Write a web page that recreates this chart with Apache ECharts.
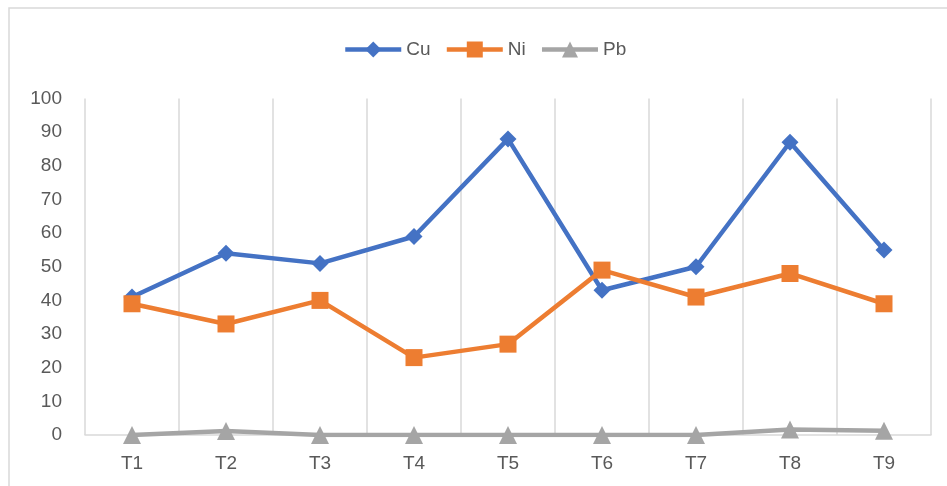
<!DOCTYPE html>
<html>
<head>
<meta charset="utf-8">
<script src="https://cdn.jsdelivr.net/npm/echarts@6/dist/echarts.min.js"></script>
<style>
  html, body { margin: 0; padding: 0; background: #fff; }
  #chart { width: 947px; height: 486px; }
</style>
</head>
<body>
<div id="chart"></div>
<script>
// Sampling points
const categories = ['T1', 'T2', 'T3', 'T4', 'T5', 'T6', 'T7', 'T8', 'T9'];
// Measured values per element
const cuValues = [41, 54, 51, 59, 88, 43, 50, 87, 55];
const niValues = [39, 33, 40, 23, 27, 49, 41, 48, 39];
const pbValues = [0, 1.2, 0, 0, 0, 0, 0, 1.6, 1.3];

const FONT = '"Liberation Sans", Arial, sans-serif';
const TEXT = '#595959';
const GRID = '#d9d9d9';

const chart = echarts.init(document.getElementById('chart'), null, { renderer: 'canvas' });

function lineSeries(name, data, color, symbol, size) {
  return {
    name: name,
    type: 'line',
    data: data,
    symbol: symbol,
    symbolSize: size,
    showAllSymbol: true,
    lineStyle: { color: color, width: 4.5 },
    itemStyle: { color: color },
    emphasis: { disabled: true },
    z: 3
  };
}

chart.setOption({
  animation: false,
  backgroundColor: '#ffffff',
  graphic: [{
    type: 'rect',
    shape: { x: 9, y: 8, width: 960, height: 500 },
    style: { fill: 'none', stroke: GRID, lineWidth: 1.5 },
    silent: true
  }],
  legend: {
    top: 35,
    left: 338,
    itemWidth: 56,
    itemHeight: 20,
    itemGap: 14,
    lineStyle: { width: 4.5 },
    textStyle: { fontFamily: FONT, fontSize: 19, color: TEXT },
    data: ['Cu', 'Ni', 'Pb']
  },
  grid: { left: 85, right: 16, top: 98.5, bottom: 51, containLabel: false },
  xAxis: {
    type: 'category',
    data: categories,
    boundaryGap: true,
    axisLine: { show: true, lineStyle: { color: GRID, width: 1.5 } },
    axisTick: { show: false },
    axisLabel: { fontFamily: FONT, fontSize: 19, color: TEXT, margin: 19 },
    splitLine: { show: true, lineStyle: { color: GRID, width: 1.5 } }
  },
  yAxis: {
    type: 'value',
    min: 0,
    max: 100,
    interval: 10,
    axisLine: { show: false },
    axisTick: { show: false },
    axisLabel: { fontFamily: FONT, fontSize: 19, color: TEXT, margin: 23 },
    splitLine: { show: false }
  },
  series: [
    lineSeries('Cu', cuValues, '#4472C4', 'diamond', 17),
    lineSeries('Ni', niValues, '#ED7D31', 'rect', 17),
    lineSeries('Pb', pbValues, '#A5A5A5', 'triangle', 18)
  ]
});
</script>
</body>
</html>
